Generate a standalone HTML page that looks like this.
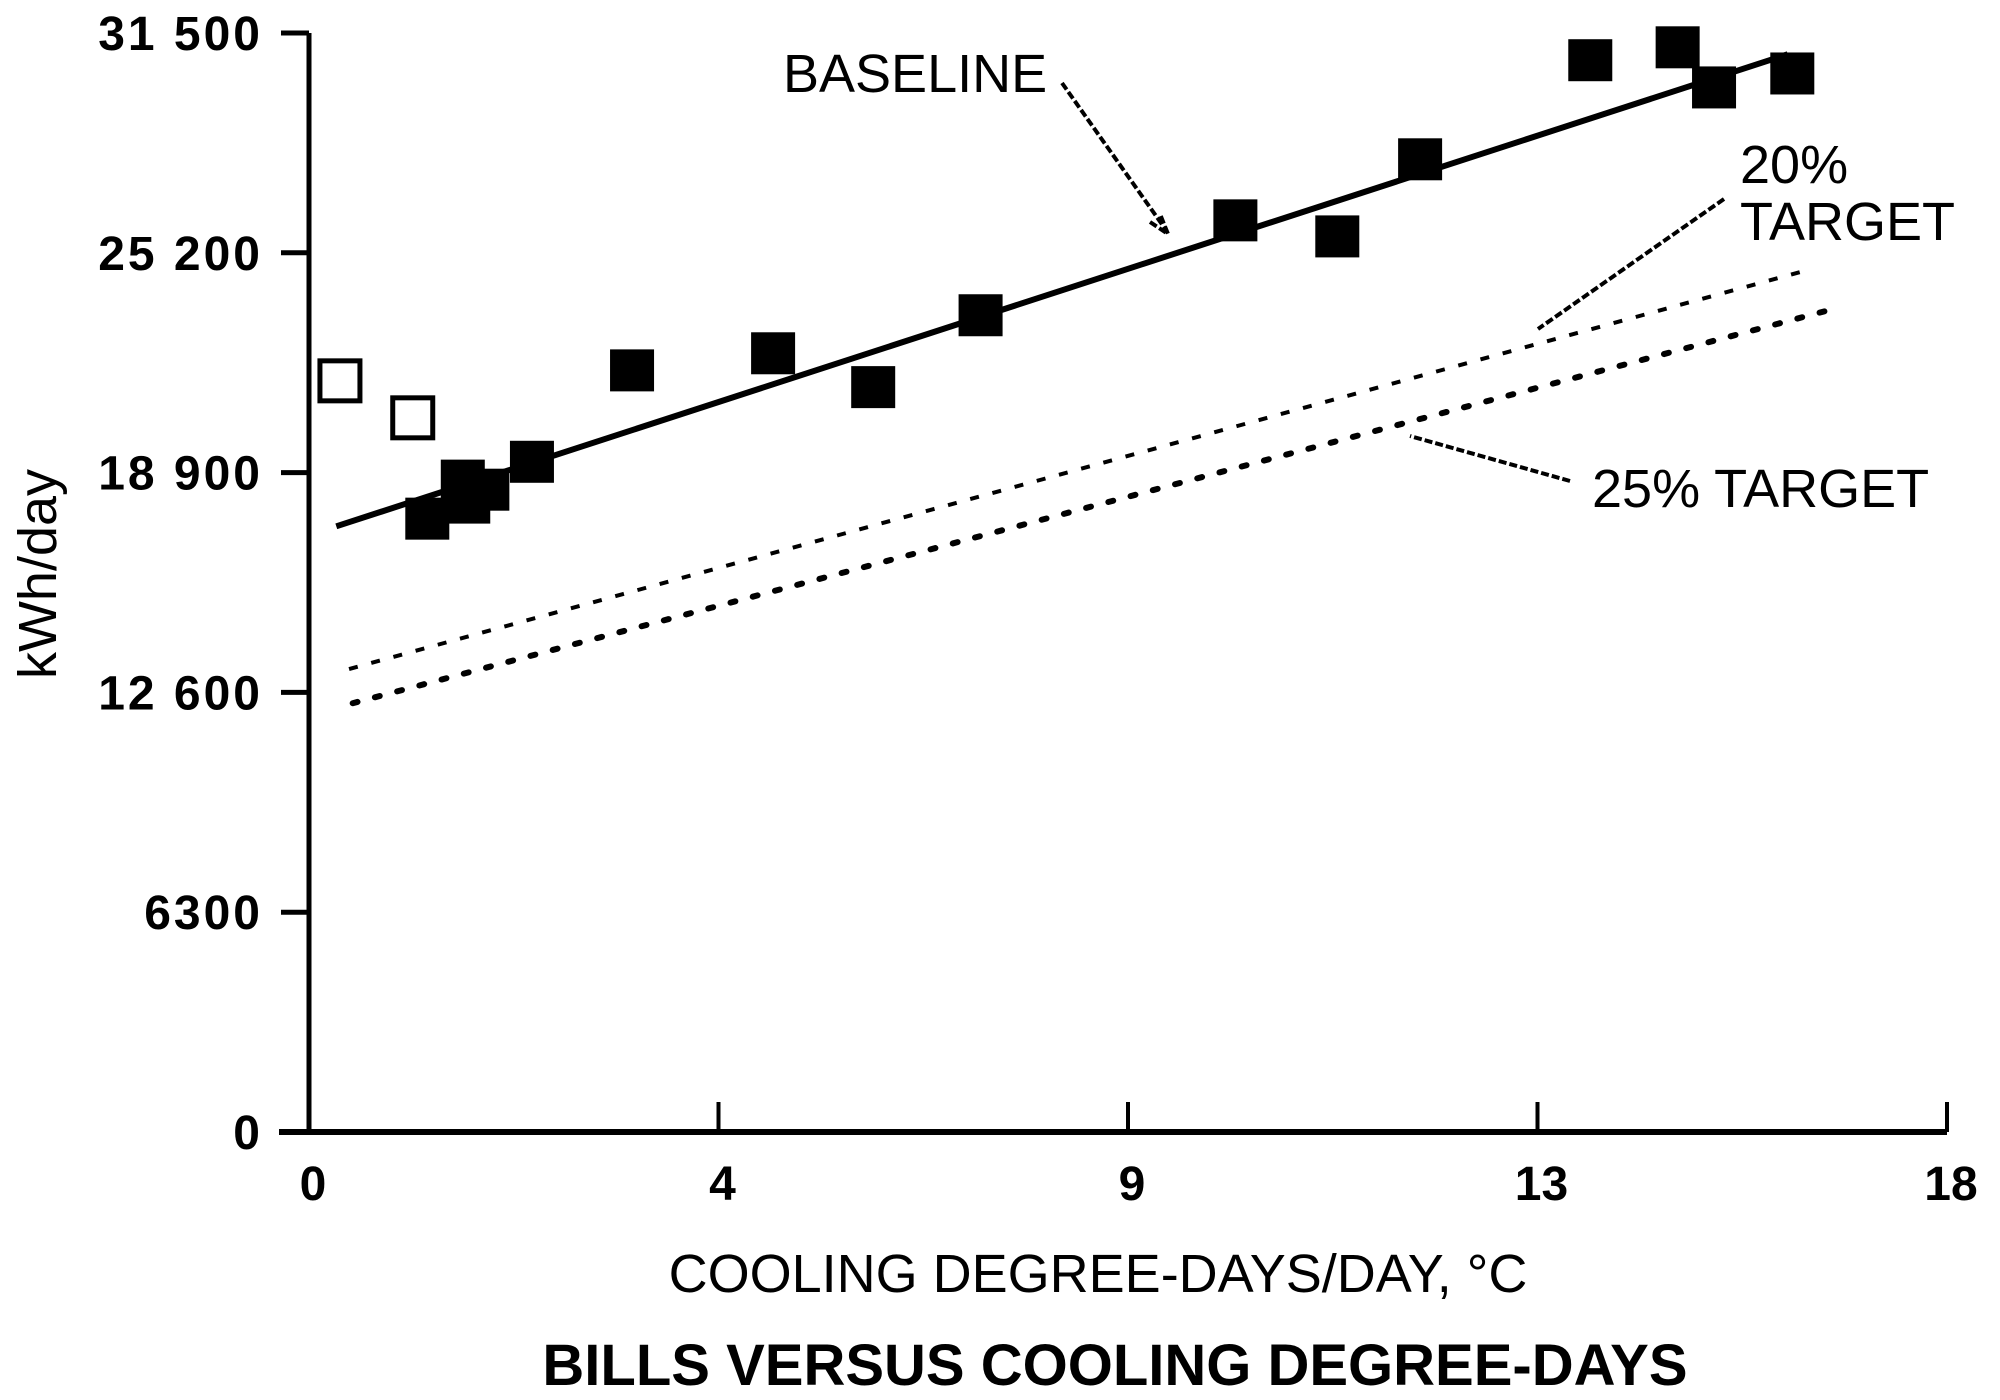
<!DOCTYPE html>
<html><head><meta charset="utf-8"><style>
html,body{margin:0;padding:0;background:#fff;}
svg{display:block;}
text{font-family:"Liberation Sans",sans-serif;fill:#000;}
</style></head><body>
<svg id="chart" width="2000" height="1400" viewBox="0 0 2000 1400" xmlns="http://www.w3.org/2000/svg">
<g id="axes"></g>
<g id="lines"></g>
<g id="points"></g>
<text transform="translate(56,574) rotate(-90)" text-anchor="middle" font-size="54">kWh/day</text>
<text x="1098" y="1292" text-anchor="middle" font-size="54">COOLING DEGREE-DAYS/DAY, °C</text>
<text x="1115" y="1385" text-anchor="middle" font-size="58" font-weight="bold">BILLS VERSUS COOLING DEGREE-DAYS</text>
<text x="783" y="92" font-size="54">BASELINE</text>
<path d="M1062,83 L1166,230 M1150,222 L1168,234 L1160,214" stroke="#000" stroke-width="4" fill="none" stroke-dasharray="8,3"/>
<text x="1740" y="183" font-size="54">20%</text>
<text x="1740" y="240" font-size="54">TARGET</text>
<path d="M1724,199 L1538,329" stroke="#000" stroke-width="4" fill="none" stroke-dasharray="8,3"/>
<text x="1592" y="507" font-size="54">25% TARGET</text>
<path d="M1570,481 L1410,436" stroke="#000" stroke-width="4" fill="none" stroke-dasharray="8,3"/>
</svg>
<script>
const yTicks = [0, 6300, 12600, 18900, 25200, 31500];
const yTickLabels = ["0", "6300", "12 600", "18 900", "25 200", "31 500"];
const xTicks = [0, 4.5, 9, 13.5, 18];
const xTickLabels = ["0", "4", "9", "13", "18"];
const openX = [0.34, 1.14];
const openY = [21530, 20470];
const filledX = [1.30, 1.69, 1.75, 1.96, 2.45, 3.55, 5.10, 6.20, 7.38, 10.18, 11.30, 12.21, 14.08, 15.04, 15.44, 16.30];
const filledY = [17580, 18670, 18040, 18410, 19210, 21830, 22320, 21350, 23410, 26130, 25670, 27880, 30720, 31090, 29940, 30340];
const baselineX = [0.30, 16.25];
const baselineY = [17360, 30890];
const target20X = [0.44, 16.5];
const target20Y = [13270, 24730];
const target25X = [0.48, 16.78];
const target25Y = [12290, 23610];

const NS = "http://www.w3.org/2000/svg";
const X0 = 309, X1 = 1947, Y0 = 1132, Y1 = 33;
function sx(v){ return X0 + (v/18)*(X1-X0); }
function sy(v){ return Y0 - (v/31500)*(Y0-Y1); }
function mk(tag, attrs, parent){ const e=document.createElementNS(NS,tag); for(const k in attrs) e.setAttribute(k,attrs[k]); parent.appendChild(e); return e; }

const axes = document.getElementById('axes');
let e = mk('line',{x1:X0,y1:Y1,x2:X0,y2:Y0,stroke:'#000','stroke-width':5},axes);


e = mk('line',{x1:X0-30,y1:Y0,x2:X1,y2:Y0,stroke:'#000','stroke-width':6},axes);


yTicks.forEach((t,i)=>{
  const y = sy(t);
  const tk = mk('line',{x1:X0-28,y1:y,x2:X0,y2:y,stroke:'#000','stroke-width':5},axes);
  
  
  const tx = mk('text',{x:263,y:y+17,'text-anchor':'end','font-size':48,'font-weight':'bold','letter-spacing':3},axes);
  tx.textContent = yTickLabels[i];
  
  
});
xTicks.forEach((t,i)=>{
  const x = sx(t);
  const tk = mk('line',{x1:x,y1:Y0-30,x2:x,y2:Y0,stroke:'#000','stroke-width':4},axes);
  
  
  const tx = mk('text',{x:x+4,y:1200,'text-anchor':'middle','font-size':48,'font-weight':'bold'},axes);
  tx.textContent = xTickLabels[i];
  
  
});

const lines = document.getElementById('lines');
e = mk('line',{x1:sx(baselineX[0]),y1:sy(baselineY[0]),x2:sx(baselineX[1]),y2:sy(baselineY[1]),stroke:'#000','stroke-width':6},lines);


e = mk('line',{x1:sx(target20X[0]),y1:sy(target20Y[0]),x2:sx(target20X[1]),y2:sy(target20Y[1]),stroke:'#000','stroke-width':4,'stroke-dasharray':'9,14'},lines);


e = mk('line',{x1:sx(target25X[0]),y1:sy(target25Y[0]),x2:sx(target25X[1]),y2:sy(target25Y[1]),stroke:'#000','stroke-width':6,'stroke-dasharray':'5,18','stroke-linecap':'round'},lines);



const pts = document.getElementById('points');
openX.forEach((x,i)=>{
  const r = mk('rect',{x:sx(x)-20,y:sy(openY[i])-20,width:40,height:40,fill:'#fff',stroke:'#000','stroke-width':5},pts);
  
  
});
filledX.forEach((x,i)=>{
  const r = mk('rect',{x:sx(x)-22,y:sy(filledY[i])-21,width:44,height:42,fill:'#000'},pts);
  
  
});
</script>
</body></html>
